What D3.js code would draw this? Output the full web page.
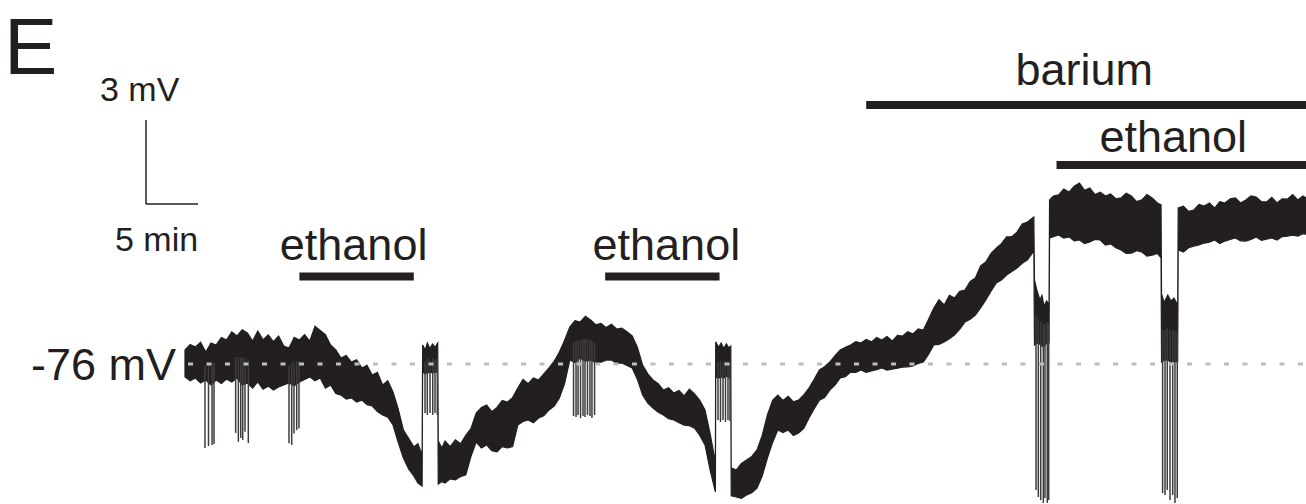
<!DOCTYPE html>
<html>
<head>
<meta charset="utf-8">
<script src="https://cdn.jsdelivr.net/npm/d3@7"></script>
<style>
  body { margin: 0; background: #fff; }
  svg { display: block; font-family: "Liberation Sans", Arial, sans-serif; }
</style>
</head>
<body>
<div id="trace"></div>
<script>
// membrane potential
// time in min from start, upper / lower edge of the noisy trace in mV
const traceTime = [0, 0.5, 1, 1.5, 2, 2.5, 3, 3.5, 4, 4.5, 5, 5.5, 6, 6.5, 7, 7.5, 8, 8.5, 9, 9.5,
  10, 10.5, 11, 11.5, 12, 12.5, 13, 13.5, 14, 14.5, 15, 15.5, 16, 16.5, 17, 17.5, 18, 18.5, 19, 19.5,
  20, 20.5, 21, 21.5, 22, 22.4, 22.8,
  22.85, 23.1, 23.3, 23.55, 23.8, 24.05, 24.3,
  24.35, 24.7, 25, 25.5, 26, 26.5, 27, 27.5, 28, 28.5, 29, 29.5, 30, 30.5, 31, 31.5, 32, 32.5, 33, 33.5,
  34, 34.5, 35, 35.5, 36, 36.5, 37, 37.5, 38, 38.5, 39, 39.5, 40, 40.5, 41, 41.5, 42, 42.5, 43, 43.5,
  44, 44.5, 45, 45.5, 46, 46.5, 47, 47.5, 48, 48.5, 49, 49.5, 50, 50.5, 51,
  51.03, 51.3, 51.55, 51.8, 52.05, 52.3, 52.48,
  52.52, 53, 53.5, 54, 54.5, 55, 55.5, 56, 56.5, 57, 57.5, 58, 58.5, 59, 59.5, 60, 60.5, 61, 61.5,
  62, 62.5, 63, 63.5, 64, 64.5, 65, 65.5, 66, 66.5, 67, 67.5, 68, 68.5, 69, 69.5, 70, 70.5, 71, 71.5,
  72, 72.5, 73, 73.5, 74, 74.5, 75, 75.5, 76, 76.5, 77, 77.5, 78, 78.5, 79, 79.5, 80, 80.5, 81, 81.62,
  81.68, 81.9, 82.2, 82.4, 82.6, 82.85, 83.08,
  83.13, 83.5, 84, 84.5, 85, 85.5, 86, 86.5, 87, 87.5, 88, 88.5, 89, 89.5, 90, 90.5, 91, 91.5, 92, 92.5,
  93, 93.5, 93.85,
  93.9, 94.15, 94.5, 94.8, 95.1, 95.45,
  95.5, 96, 96.5, 97, 97.5, 98, 98.5, 99, 99.5, 100, 100.5, 101, 101.5, 102, 102.5, 103, 103.5, 104,
  104.5, 105, 105.5, 106, 106.5, 107, 107.5, 107.8];

const traceTop = [-75.50, -75.30, -75.39, -75.22, -75.57, -75.25, -75.32, -75.05, -75.14, -74.85,
  -75.00, -74.78, -74.89, -75.18, -74.82, -75.14, -74.96, -75.20, -75.00, -75.36,
  -75.43, -75.05, -75.14, -74.95, -75.18, -74.65, -74.80, -74.95, -75.32, -75.50,
  -75.79, -75.70, -75.93, -75.85, -76.14, -76.05, -76.39, -76.30, -76.75, -76.60,
  -77.00, -77.60, -78.36, -78.65, -78.96, -78.85, -79.25,
  -75.32, -75.50, -75.25, -75.45, -75.29, -75.40, -75.25,
  -78.75, -79.00, -78.75, -78.95, -78.71, -78.85, -78.55, -78.30, -77.75, -77.55,
  -77.46, -77.70, -77.55, -77.30, -77.36, -77.20, -76.86, -76.55, -76.70, -76.50,
  -76.57, -76.35, -76.14, -75.90, -75.57, -75.15, -74.68, -74.45, -74.50, -74.30,
  -74.43, -74.60, -74.55, -74.70, -74.58, -74.75, -74.72, -74.85, -75.00, -75.40,
  -76.04, -76.35, -76.57, -76.70, -76.93, -76.85, -77.04, -76.95, -77.14, -76.90,
  -77.07, -77.30, -77.64, -78.50, -79.50,
  -75.21, -75.40, -75.25, -75.45, -75.28, -75.42, -75.36,
  -79.71, -79.79, -79.55, -79.43, -79.30, -79.07, -78.55, -77.82, -77.30, -77.11,
  -77.30, -77.15, -77.35, -77.29, -77.10, -76.86, -76.55, -76.21, -76.10,
  -75.93, -75.70, -75.50, -75.40, -75.32, -75.20, -75.25, -75.12, -75.21, -75.05,
  -75.14, -75.02, -75.18, -74.98, -75.00, -74.85, -74.93, -74.75, -74.79, -74.40,
  -74.00, -73.70, -73.89, -73.55, -73.64, -73.40, -73.36, -73.05, -72.93, -72.50,
  -72.36, -72.05, -71.86, -71.70, -71.46, -71.45, -71.29, -71.00, -70.93, -70.75,
  -73.00, -73.35, -73.71, -73.55, -73.93, -73.75, -73.89,
  -70.14, -70.00, -69.96, -69.75, -69.86, -69.65, -69.54, -69.80, -69.71, -69.95,
  -69.86, -70.00, -69.93, -70.10, -70.07, -69.90, -70.00, -70.20, -70.14, -69.95,
  -70.07, -70.25, -70.32,
  -73.50, -73.80, -73.54, -73.75, -73.65, -73.89,
  -70.43, -70.36, -70.55, -70.50, -70.30, -70.36, -70.25, -70.43, -70.20, -70.25,
  -70.10, -70.07, -70.25, -70.14, -70.00, -70.04, -70.20, -70.21, -70.05, -70.25,
  -70.10, -70.11, -69.95, -70.14, -70.00, -70.07];

const traceBottom = [-76.46, -76.60, -76.50, -76.68, -76.57, -76.75, -76.57, -76.70, -76.54, -76.64,
  -76.50, -76.75, -76.68, -76.86, -76.64, -76.90, -76.79, -76.93, -76.82, -76.75,
  -76.68, -76.78, -76.64, -76.55, -76.46, -76.60, -76.50, -76.86, -76.75, -77.05,
  -77.11, -77.25, -77.21, -77.36, -77.29, -77.45, -77.50, -77.70, -77.82, -77.90,
  -78.18, -78.80, -79.36, -79.75, -80.00, -80.25, -80.36,
  -76.29, -76.35, -76.32, -76.29, -76.32, -76.29, -76.29,
  -80.29, -80.20, -80.25, -80.10, -80.14, -80.02, -79.96, -79.30, -78.79, -79.00,
  -78.89, -79.10, -79.14, -78.95, -79.00, -78.95, -78.18, -78.05, -78.00, -78.10,
  -77.93, -77.85, -77.64, -77.50, -77.21, -76.70, -75.86, -75.95, -75.79, -75.90,
  -75.86, -75.95, -75.93, -75.86, -75.86, -75.98, -75.96, -76.05, -76.14, -76.55,
  -77.11, -77.40, -77.57, -77.72, -77.82, -77.95, -78.00, -78.10, -78.18, -78.20,
  -78.29, -78.55, -78.89, -79.80, -80.57,
  -76.46, -76.50, -76.46, -76.50, -76.43, -76.50, -76.50,
  -80.71, -80.75, -80.80, -80.68, -80.60, -80.43, -80.00, -79.36, -78.80, -78.36,
  -78.45, -78.36, -78.55, -78.46, -78.30, -77.93, -77.60, -77.29, -77.20,
  -76.93, -76.75, -76.50, -76.45, -76.29, -76.30, -76.21, -76.30, -76.25, -76.20,
  -76.14, -76.22, -76.18, -76.15, -76.11, -76.10, -76.07, -75.98, -75.93, -75.65,
  -75.32, -75.30, -75.21, -75.10, -74.96, -74.75, -74.50, -74.40, -74.25, -74.00,
  -73.71, -73.40, -73.11, -73.00, -72.82, -72.70, -72.57, -72.40, -72.29, -71.96,
  -75.32, -75.25, -75.29, -75.36, -75.36, -75.25, -75.25,
  -71.50, -71.45, -71.39, -71.50, -71.46, -71.60, -71.57, -71.70, -71.64, -71.55,
  -71.57, -71.75, -71.71, -71.85, -71.93, -72.05, -72.04, -71.95, -72.00, -72.15,
  -72.11, -72.05, -72.21,
  -75.93, -75.86, -75.86, -75.93, -75.90, -75.93,
  -71.93, -72.00, -71.85, -71.79, -71.75, -71.68, -71.65, -71.57, -71.70, -71.61,
  -71.55, -71.50, -71.60, -71.61, -71.55, -71.46, -71.58, -71.54, -71.50, -71.57,
  -71.45, -71.43, -71.40, -71.43, -71.35, -71.36];

// hyperpolarizing deflections: time (min) and most negative value (mV)
const pulseTime = [1.92, 2.26, 2.6, 2.79,
  4.87, 5.13, 5.36, 5.55, 5.77, 6.09,
  10.0, 10.26, 10.48, 10.74, 10.96,
  23.08, 23.3, 23.56, 23.82, 24.04, 24.26,
  37.36, 37.6, 37.79, 38.03, 38.27, 38.46, 38.7, 38.94, 39.13, 39.38,
  51.25, 51.49, 51.73, 51.97, 52.21, 52.4,
  81.83, 82.05, 82.28, 82.53, 82.69, 82.91, 83.05,
  94.0, 94.23, 94.45, 94.71, 94.97, 95.19, 95.41];
const pulseBottom = [-79.00, -78.93, -78.89, -78.86,
  -78.46, -78.78, -78.64, -78.71, -78.42, -78.82,
  -78.83, -78.89, -78.48, -78.36, -78.30,
  -77.75, -77.82, -77.75, -77.82, -77.75, -77.82,
  -77.86, -77.89, -77.82, -77.93, -77.86, -77.89, -77.82, -77.86, -77.93, -77.82,
  -78.00, -78.07, -78.00, -78.07, -78.00, -78.04,
  -80.50, -80.75, -80.86, -80.96, -80.79, -80.96, -80.86,
  -80.61, -80.68, -80.50, -80.86, -80.68, -80.96, -80.79];

// drug applications (min)
const drugNames = ["ethanol", "ethanol", "barium", "ethanol"];
const drugStart = [11.0, 40.4, 65.5, 83.8];
const drugEnd = [22.0, 51.4, 107.8, 107.8];

const restingPotential = -76;
const scaleBarMv = 3, scaleBarMin = 5;

const width = 1306, height = 504;
const ink = "#231f20";

const svg = d3.select("#trace")
  .append("svg")
  .attr("width", width)
  .attr("height", height);

// 10.4 px per min, 28 px per mV
const x = d3.scaleLinear().domain([0, 108]).range([185, 185 + 108 * 10.4]);
const y = d3.scaleLinear().domain([-81, -69]).range([364 + 5 * 28, 364 - 7 * 28]);

const trace = traceTime.map((t, i) => ({t: t, top: traceTop[i], bottom: traceBottom[i]}));

// the trace itself, as a band between its upper and lower edge
svg.append("path")
  .datum(trace)
  .attr("d", d3.area()
    .x(d => x(d.t))
    .y0(d => y(d.bottom))
    .y1(d => y(d.top)))
  .attr("fill", ink)
  .attr("stroke", ink)
  .attr("stroke-width", 1.2)
  .attr("stroke-linejoin", "miter");

// middle of the trace at time t, for where each deflection starts
const bisect = d3.bisector(d => d.t).left;
function traceMid(t) {
  let i = Math.max(1, Math.min(trace.length - 1, bisect(trace, t)));
  const a = trace[i - 1], b = trace[i];
  const k = (t - a.t) / (b.t - a.t);
  return ((a.top + a.bottom) / 2) * (1 - k) + ((b.top + b.bottom) / 2) * k;
}

svg.append("g")
  .selectAll("line")
  .data(pulseTime.map((t, i) => ({t: t, v: pulseBottom[i]})))
  .join("line")
    .attr("x1", d => x(d.t))
    .attr("x2", d => x(d.t))
    .attr("y1", d => y(traceMid(d.t)))
    .attr("y2", d => y(d.v))
    .attr("stroke", "#3e3b3c")
    .attr("stroke-width", 1.5);

// -76 mV reference
svg.append("line")
  .attr("x1", 188)
  .attr("x2", width)
  .attr("y1", y(restingPotential))
  .attr("y2", y(restingPotential))
  .attr("stroke", "#bcbec0")
  .attr("stroke-width", 3)
  .attr("stroke-dasharray", "5 13.5");

svg.append("text")
  .attr("x", 31)
  .attr("y", y(restingPotential) + 16)
  .style("font-size", "45px")
  .attr("fill", ink)
  .text(restingPotential + " mV");

// application bars with their labels
const barY = [276.5, 276.5, 105, 165];
const labelY = [260, 260, 85, 152];
const labelShift = [-3, 4, -2, -8];

const drugs = svg.append("g")
  .selectAll("g")
  .data(drugNames.map((name, i) => ({name: name, start: drugStart[i], end: drugEnd[i], i: i})))
  .join("g");

drugs.append("rect")
  .attr("x", d => x(d.start))
  .attr("y", d => barY[d.i] - 4)
  .attr("width", d => x(d.end) - x(d.start))
  .attr("height", 8)
  .attr("fill", ink);

drugs.append("text")
  .attr("x", d => (x(d.start) + x(d.end)) / 2 + labelShift[d.i])
  .attr("y", d => labelY[d.i])
  .attr("text-anchor", "middle")
  .style("font-size", "45px")
  .attr("fill", ink)
  .text(d => d.name);

// scale bar
const sbX = 146, sbY = 204;
const sb = svg.append("g").attr("stroke", ink).attr("stroke-width", 1.5).attr("fill", "none");
sb.append("line")
  .attr("x1", sbX).attr("x2", sbX)
  .attr("y1", sbY).attr("y2", sbY - (y(restingPotential) - y(restingPotential + scaleBarMv)));
sb.append("line")
  .attr("x1", sbX).attr("x2", sbX + (x(scaleBarMin) - x(0)))
  .attr("y1", sbY).attr("y2", sbY);

svg.append("text")
  .attr("x", 100)
  .attr("y", 101)
  .style("font-size", "34px")
  .attr("fill", ink)
  .text(scaleBarMv + " mV");

svg.append("text")
  .attr("x", 115)
  .attr("y", 251)
  .style("font-size", "34px")
  .attr("fill", ink)
  .text(scaleBarMin + " min");

// panel letter
svg.append("text")
  .attr("x", 4)
  .attr("y", 74)
  .style("font-size", "80px")
  .attr("fill", ink)
  .text("E");
</script>
</body>
</html>
